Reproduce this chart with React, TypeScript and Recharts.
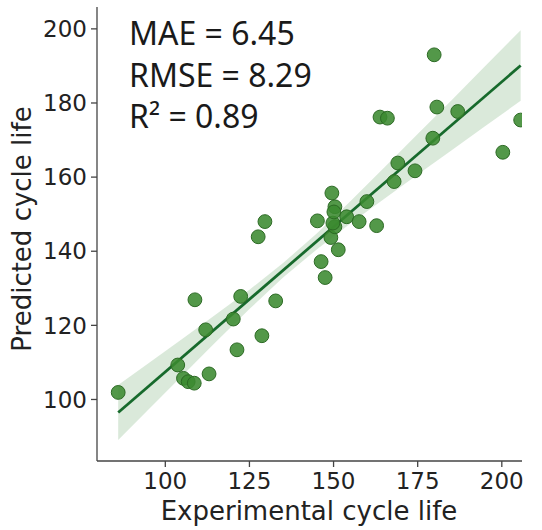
import React from 'react';
import { ComposedChart, Scatter, Line, Area, XAxis, YAxis } from 'recharts';

// Experimental vs predicted cycle life
const expLife = [
  86.0, 103.7, 105.4, 106.8, 108.6, 113.0, 108.8, 112.0, 120.2, 121.3,
  122.4, 128.7, 132.8, 127.6, 129.6, 145.2, 146.3, 147.5, 149.2, 151.4,
  150.4, 149.8, 150.4, 150.1, 149.5, 153.9, 157.6, 162.8, 159.9, 168.0,
  169.1, 174.2, 163.8, 166.0, 179.5, 180.7, 186.9, 179.9, 200.3, 205.6,
];
const predLife = [
  101.9, 109.3, 105.7, 104.8, 104.4, 106.9, 126.9, 118.8, 121.7, 113.4,
  127.8, 117.2, 126.6, 143.9, 148.0, 148.2, 137.2, 132.9, 143.7, 140.4,
  146.6, 147.6, 152.0, 150.6, 155.7, 149.3, 148.0, 146.9, 153.4, 158.8,
  163.8, 161.7, 176.2, 175.9, 170.5, 178.9, 177.7, 193.0, 166.7, 175.4,
];

// Regression fit line end points
const fitX = [86.0, 205.6];
const fitY = [96.5, 190.1];

// Confidence band (lower / upper) read at several x positions
const bandX = [86.0, 95, 105, 115, 125, 135, 145, 155, 165, 175, 185, 195, 205.6];
const bandLow = [89.1, 97.3, 106.4, 115.5, 124.4, 132.9, 140.5, 147.5, 154.1, 160.7, 167.2, 173.7, 180.6];
const bandHigh = [103.9, 109.8, 116.3, 122.9, 129.6, 136.8, 144.8, 153.5, 162.5, 171.6, 180.7, 189.9, 199.6];

const xTicks = [100, 125, 150, 175, 200];
const yTicks = [100, 120, 140, 160, 180, 200];

const metricLines = ['MAE = 6.45', 'RMSE = 8.29', 'R² = 0.89'];
const xTitle = 'Experimental cycle life';
const yTitle = 'Predicted cycle life';

const points = expLife.map((x, i) => ({ x, y: predLife[i] }));
const rows = bandX.map((x, i) => {
  const fi = fitX.indexOf(x);
  return { x, band: [bandLow[i], bandHigh[i]], fit: fi >= 0 ? fitY[fi] : null };
});

const W = 542;
const H = 530;
const tickStyle = { fontSize: 23, fill: '#222', fontFamily: 'DejaVu Sans' };

const Dot = (props: any) => {
  const { cx, cy } = props;
  if (cx == null || cy == null) return null;
  return (
    <circle cx={cx} cy={cy} r={6.9} fill="#3b8a30" fillOpacity={0.88} stroke="#2c6a24" strokeWidth={1} />
  );
};

export default function App() {
  return (
    <div style={{ position: 'absolute', left: 0, top: 0, width: W, height: H, background: '#fff' }}>
      <ComposedChart
        width={W}
        height={H}
        data={rows}
        margin={{ top: 7, right: 20, bottom: 0, left: 20 }}
      >
        <XAxis
          type="number"
          dataKey="x"
          domain={[79.7, 206]}
          ticks={xTicks}
          allowDataOverflow
          height={69}
          tickSize={6}
          tickMargin={6}
          tick={tickStyle}
          axisLine={{ stroke: '#444', strokeWidth: 1.3 }}
          tickLine={{ stroke: '#444', strokeWidth: 1.3 }}
        />
        <YAxis
          type="number"
          dataKey="y"
          domain={[83.4, 205.9]}
          ticks={yTicks}
          allowDataOverflow
          width={77}
          tickSize={6}
          tickMargin={4}
          tick={tickStyle}
          axisLine={{ stroke: '#444', strokeWidth: 1.3 }}
          tickLine={{ stroke: '#444', strokeWidth: 1.3 }}
        />
        <Area
          dataKey="band"
          type="linear"
          stroke="none"
          fill="#3a8a3a"
          fillOpacity={0.19}
          isAnimationActive={false}
        />
        <Scatter data={points} dataKey="y" shape={<Dot />} isAnimationActive={false} />
        <Line
          dataKey="fit"
          type="linear"
          stroke="#176a2c"
          strokeWidth={2.8}
          dot={false}
          connectNulls
          isAnimationActive={false}
        />
      </ComposedChart>
      <svg
        width={W}
        height={H}
        style={{ position: 'absolute', left: 0, top: 0, pointerEvents: 'none' }}
      >
        {metricLines.map((t, i) => (
          <text
            key={t}
            x={129}
            y={45 + i * 41.5}
            fontSize={32}
            fontFamily="Noto Sans"
            fill="#1a1a1a"
          >
            {t}
          </text>
        ))}
        <text x={309} y={520} textAnchor="middle" fontSize={26} fontFamily="DejaVu Sans" fill="#222">
          {xTitle}
        </text>
        <text
          x={31}
          y={229}
          textAnchor="middle"
          fontSize={26}
          fontFamily="DejaVu Sans"
          fill="#222"
          transform="rotate(-90 31 229)"
        >
          {yTitle}
        </text>
      </svg>
    </div>
  );
}
